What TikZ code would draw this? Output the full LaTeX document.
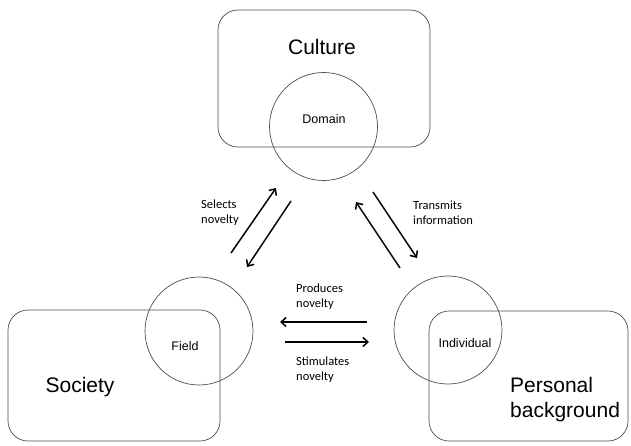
\documentclass[tikz,border=0pt]{standalone}
\usepackage{fontspec}
\setmainfont{Liberation Sans}
\newfontfamily\labelfont{Carlito}
\usetikzlibrary{arrows.meta}

\begin{document}
\begin{tikzpicture}
[
    x=1pt, y=-1pt,
    sphere/.style={draw=black!70, line width=0.7pt, rounded corners=20pt, minimum width=212pt, minimum height=131pt},
    circ/.style={draw=black!70, line width=0.7pt, circle, minimum size=108pt, inner sep=0pt},
    title/.style={font=\fontsize{21}{25}\selectfont, align=left},
    inner/.style={font=\fontsize{12.5}{15}\selectfont},
    note/.style={font=\labelfont\fontsize{12.5}{15}\selectfont, align=left, anchor=west, inner sep=0pt},
    flow/.style={line width=1.5pt, -{Straight Barb[length=5pt, width=9pt, line width=1.5pt]}},
]
\useasboundingbox (0,0) rectangle (631,445);
\node [sphere, minimum height=137pt] (culture) at (324,78.5) {};
\node [sphere] (society) at (114,375.5) {};
\node [sphere, minimum width=199pt, minimum height=130pt] (personal) at (528.5,376) {};
\node [circ] (domain) at (323.5,126.5) {};
\node [circ] (field) at (199,331) {};
\node [circ] (individual) at (448,330) {};
\node [title] (culturetxt) at (322,47) {Culture};
\node [title] (societytxt) at (80,387) {Society};
\node [title, anchor=west, inner sep=0pt] (personaltxt) at (510,399.5) {Personal\\background};
\node [inner] (domaintxt) at (324,119) {Domain};
\node [inner] (fieldtxt) at (185,346) {Field};
\node [inner] (individualtxt) at (465,343) {Individual};
\node [note] (selects) at (201,212.5) {Selects\\novelty};
\node [note] (transmits) at (413,212.5) {Transmits\\information};
\node [note] (produces) at (296,297) {Produces\\novelty};
\node [note] (stimulates) at (296,369.5) {Stimulates\\novelty};
\coordinate (fd1) at (231,253);
\coordinate (fd2) at (276,188);
\coordinate (df1) at (291,201);
\coordinate (df2) at (247,267);
\coordinate (id1) at (400,268);
\coordinate (id2) at (356,202);
\coordinate (di1) at (373,192);
\coordinate (di2) at (417,258);
\coordinate (if1) at (367,322);
\coordinate (if2) at (280,322);
\coordinate (fi1) at (285,342);
\coordinate (fi2) at (369,342);
\draw [flow] (fd1) -- (fd2);
\draw [flow] (df1) -- (df2);
\draw [flow] (id1) -- (id2);
\draw [flow] (di1) -- (di2);
\draw [flow] (if1) -- (if2);
\draw [flow] (fi1) -- (fi2);
\end{tikzpicture}
\end{document}
